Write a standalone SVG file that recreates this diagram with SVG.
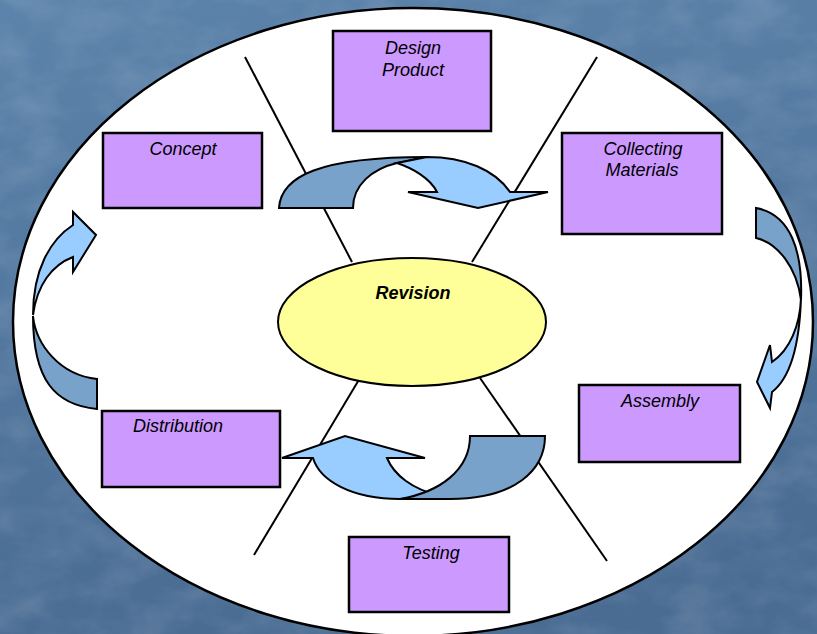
<svg xmlns="http://www.w3.org/2000/svg" width="817" height="634" viewBox="0 0 817 634">
  <defs>
    <linearGradient id="bg" x1="0" y1="0" x2="0.2" y2="1">
      <stop offset="0" stop-color="#5C83AB"/>
      <stop offset="1" stop-color="#4A6C93"/>
    </linearGradient>
    <filter id="marble" x="0" y="0" width="100%" height="100%">
      <feTurbulence type="fractalNoise" baseFrequency="0.018 0.03" numOctaves="4" seed="7"/>
      <feColorMatrix type="matrix" values="0 0 0 0 1  0 0 0 0 1  0 0 0 0 1  0 0 0 0.22 -0.08"/>
    </filter>
    <style>
      .box { fill: #CC99FF; stroke: #000; stroke-width: 2.5; }
      .lbl { font-family: "Liberation Sans", Arial, sans-serif; font-size: 18px; font-style: italic; fill: #000; text-anchor: middle; }
      .spoke { stroke: #000; stroke-width: 2; fill: none; }
      .dark { fill: #78A2C9; stroke: #000; stroke-width: 2; stroke-linejoin: miter; }
      .light { fill: #99CCFF; stroke: #000; stroke-width: 2; stroke-linejoin: miter; }
    </style>
  </defs>

  <!-- slide background -->
  <rect width="817" height="634" fill="url(#bg)"/>
  <rect width="817" height="634" filter="url(#marble)"/>

  <!-- large white ring -->
  <ellipse cx="413" cy="322" rx="400" ry="314" fill="#FFFFFF" stroke="#000" stroke-width="2.5"/>

  <!-- spokes radiating from the centre -->
  <g id="spokes">
    <line class="spoke" x1="245" y1="57" x2="352" y2="262"/>
    <line class="spoke" x1="597" y1="57" x2="472" y2="262"/>
    <line class="spoke" x1="360" y1="378" x2="254" y2="555"/>
    <line class="spoke" x1="480" y1="378" x2="607" y2="561"/>
  </g>

  <g id="design-product">
    <rect class="box" x="333" y="31" width="158" height="100"/>
    <text class="lbl" x="413" y="54">Design</text>
    <text class="lbl" x="413" y="75.5">Product</text>
  </g>

  <g id="concept">
    <rect class="box" x="103" y="133" width="159" height="75"/>
    <text class="lbl" x="183" y="155">Concept</text>
  </g>

  <g id="collecting-materials">
    <rect class="box" x="562" y="133" width="160" height="101"/>
    <text class="lbl" x="643" y="154.5">Collecting</text>
    <text class="lbl" x="642" y="176">Materials</text>
  </g>

  <g id="assembly">
    <rect class="box" x="579" y="385" width="161" height="77"/>
    <text class="lbl" x="660" y="407">Assembly</text>
  </g>

  <g id="distribution">
    <rect class="box" x="102" y="411" width="178" height="76"/>
    <text class="lbl" x="178" y="431.5">Distribution</text>
  </g>

  <g id="testing">
    <rect class="box" x="349" y="537" width="160" height="75"/>
    <text class="lbl" x="431" y="559">Testing</text>
  </g>

  <g id="revision">
    <ellipse cx="412" cy="322" rx="134" ry="64" fill="#FFFF99" stroke="#000" stroke-width="2"/>
    <text class="lbl" x="413" y="298.5" font-weight="bold">Revision</text>
  </g>

  <!-- curved cycle arrows -->
  <g id="connectors">
    <!-- top: Concept side to Collecting Materials -->
    <path class="dark" d="M279,208 C281,176 320,157 427,157 L397,163 C372,169 353,185 353,208 Z"/>
    <path class="light" d="M397,163 C412,168 430,178 437,192 L408,192 L478,208 L548,192 L510,192 C495,170 465,157 427,157 Z"/>

    <!-- right: Collecting Materials down to Assembly -->
    <path class="dark" d="M756,208 L756,238 C778,243 797,268 801,300 C803,250 790,214 756,208 Z"/>
    <path class="light" d="M801,298 C800,325 790,350 772,362 L770,345 L757,382 L770,408 L772,392 C785,382 799,360 801,298 Z"/>

    <!-- bottom: Testing side back to Distribution -->
    <path class="light" d="M313,458 L282,458 L345,436 L425,458 L387,458 C394,475 412,489 440,496 L400,499 C352,499 320,481 313,458 Z"/>
    <path class="dark" d="M470,436 L545,436 C545,470 515,499 450,499 L400,499 C440,492 470,470 470,436 Z"/>

    <!-- left: Distribution up to Concept -->
    <path class="dark" d="M97,379 L97,409 C55,405 33,380 33,316 C36,345 60,375 97,379 Z"/>
    <path class="light" d="M33,315 C33,270 50,240 73,225 L73,212 L96,235 L73,272 L73,257 C52,265 37,285 33,315 Z"/>
  </g>
</svg>
